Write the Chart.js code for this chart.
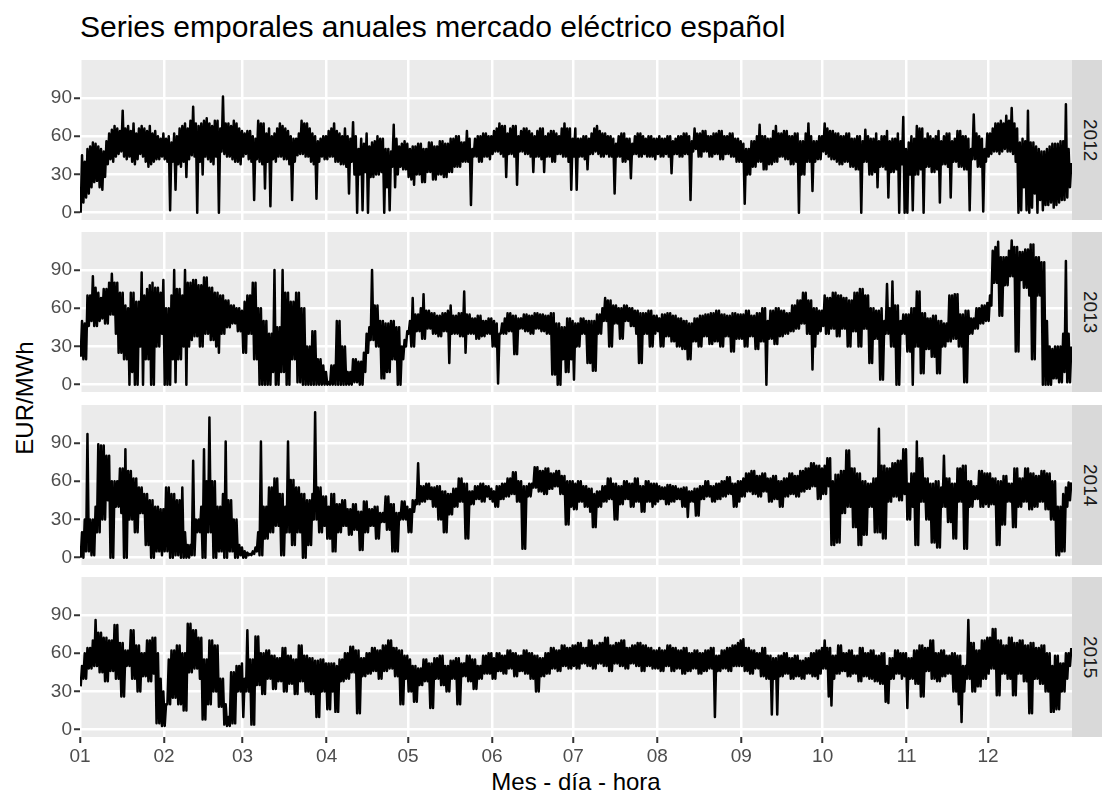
<!DOCTYPE html>
<html>
<head>
<meta charset="utf-8">
<script src="https://cdn.jsdelivr.net/npm/chart.js"></script>
<style>
  body { margin: 0; background: #fff; font-family: "Liberation Sans", Arial, Helvetica, sans-serif; }
  #wrap { position: relative; width: 1102px; height: 794px; overflow: hidden; }
  .title { position: absolute; left: 80px; top: 12px; font-size: 30px; line-height: 30px; color: #000; white-space: nowrap; }
  .xtitle { position: absolute; left: 80px; width: 992px; top: 770px; text-align: center; font-size: 24px; line-height: 24px; color: #000; }
  .ytitle { position: absolute; left: -75px; width: 200px; top: 386px; text-align: center; font-size: 24px; line-height: 24px; color: #000; transform: rotate(-90deg); }
  .panel { position: absolute; left: 0; width: 1072px; }
  .strip { position: absolute; left: 1072px; width: 30px; background: #d9d9d9; display: flex; align-items: center; justify-content: center; }
  .strip span { writing-mode: vertical-rl; font-size: 19px; color: #1a1a1a; margin-left: 6px; }
</style>
</head>
<body>
<div id="wrap">
  <div class="title">Series emporales anuales mercado eléctrico español</div>
  <div class="ytitle">EUR/MWh</div>
  <div class="xtitle">Mes - día - hora</div>
</div>
<script>
// month axis: day of year where each month starts
const monthLabels = ['01', '02', '03', '04', '05', '06', '07', '08', '09', '10', '11', '12'];
const monthStartDay = [0, 31, 60, 91, 121, 152, 182, 213, 244, 274, 305, 335];
const yGrid = [0, 15, 30, 45, 60, 75, 90, 105];
const yLabels = [0, 30, 60, 90];
const years = ['2012', '2013', '2014', '2015'];

// daily high / low price (EUR/MWh), one row per month
const hi2012 = [
  45, 40, 50, 52, 55, 54, 52, 50, 48, 56, 62, 65, 68, 66, 64, 80, 66, 68, 64, 70, 62, 66, 68, 66, 64, 68, 62, 64, 60, 58, 62,
  58, 60, 55, 62, 60, 66, 68, 70, 66, 72, 83, 70, 68, 70, 72, 74, 70, 68, 72, 72, 66, 91, 70, 70, 68, 72, 70, 66, 64,
  62, 64, 64, 60, 58, 72, 70, 70, 62, 66, 60, 62, 66, 70, 68, 66, 64, 60, 58, 58, 62, 72, 70, 70, 66, 62, 60, 56, 58, 60, 60,
  64, 66, 70, 64, 62, 60, 66, 60, 58, 71, 60, 50, 58, 54, 62, 52, 55, 56, 60, 58, 58, 50, 50, 48, 69, 58, 52, 54, 56, 54,
  50, 52, 52, 54, 54, 50, 50, 55, 55, 52, 52, 56, 56, 54, 54, 58, 58, 60, 60, 55, 55, 64, 58, 50, 58, 60, 60, 62, 62, 60, 60,
  64, 66, 70, 68, 68, 62, 66, 68, 68, 60, 64, 66, 66, 64, 62, 60, 64, 66, 66, 60, 62, 64, 64, 62, 60, 66, 70, 66, 66, 58,
  66, 58, 58, 60, 60, 58, 62, 66, 68, 64, 62, 62, 60, 60, 58, 54, 60, 62, 62, 58, 58, 54, 60, 62, 62, 60, 58, 60, 60, 58, 58,
  60, 58, 58, 60, 60, 56, 58, 60, 60, 62, 62, 60, 56, 66, 62, 62, 64, 64, 60, 60, 62, 62, 64, 64, 60, 60, 62, 62, 58, 58, 56,
  54, 50, 50, 56, 56, 60, 69, 60, 60, 58, 58, 64, 68, 62, 62, 64, 64, 60, 60, 62, 62, 56, 56, 62, 70, 60, 56, 56, 60, 60,
  70, 66, 64, 64, 62, 62, 60, 60, 62, 62, 58, 58, 60, 60, 56, 65, 60, 58, 58, 62, 56, 60, 60, 64, 56, 58, 58, 62, 56, 75, 50,
  55, 60, 58, 68, 66, 66, 58, 62, 60, 58, 60, 64, 56, 60, 62, 62, 56, 58, 64, 64, 60, 60, 58, 50, 77, 62, 60, 58, 50, 62,
  62, 66, 70, 70, 72, 70, 76, 72, 82, 70, 66, 55, 58, 56, 80, 55, 55, 52, 50, 48, 48, 50, 52, 54, 54, 54, 56, 56, 85, 50, 39
];
const lo2012 = [
  0, 8, 12, 15, 20, 24, 25, 20, 18, 28, 38, 42, 40, 44, 46, 48, 44, 42, 44, 40, 38, 42, 46, 44, 40, 36, 38, 40, 42, 42, 44,
  42, 40, 2, 40, 18, 38, 36, 40, 28, 42, 45, 44, 0, 40, 30, 44, 42, 40, 38, 44, 0, 48, 46, 44, 44, 42, 40, 40, 38,
  44, 46, 42, 40, 10, 42, 40, 38, 19, 40, 5, 42, 40, 44, 44, 42, 42, 38, 10, 40, 45, 46, 46, 44, 44, 40, 38, 11, 40, 44, 42,
  42, 44, 44, 40, 40, 38, 38, 36, 15, 40, 30, 0, 30, 2, 32, 0, 28, 28, 30, 30, 32, 0, 20, 2, 36, 20, 30, 36, 34, 34,
  28, 26, 22, 30, 30, 24, 24, 32, 32, 26, 26, 30, 30, 28, 28, 32, 32, 36, 36, 36, 40, 40, 40, 6, 44, 44, 40, 40, 44, 44, 42,
  46, 48, 48, 46, 44, 28, 46, 46, 44, 22, 48, 48, 46, 46, 44, 32, 44, 44, 42, 32, 44, 44, 40, 40, 46, 46, 44, 44, 40, 18,
  44, 18, 44, 44, 42, 34, 46, 46, 48, 46, 44, 44, 46, 44, 44, 15, 44, 44, 40, 40, 42, 27, 46, 46, 44, 44, 46, 44, 44, 44, 42,
  46, 44, 44, 46, 44, 31, 46, 46, 44, 44, 46, 46, 10, 48, 50, 44, 44, 48, 48, 44, 44, 46, 46, 42, 42, 46, 46, 44, 44, 40, 40,
  40, 7, 30, 30, 36, 36, 40, 40, 34, 34, 38, 38, 40, 40, 44, 44, 42, 42, 38, 38, 40, 0, 30, 30, 40, 40, 17, 40, 42, 42,
  48, 46, 44, 42, 42, 40, 38, 38, 40, 40, 36, 36, 34, 34, 0, 40, 40, 30, 30, 32, 20, 36, 36, 34, 12, 32, 32, 34, 0, 38, 0,
  0, 30, 2, 30, 30, 34, 0, 36, 36, 32, 32, 34, 8, 38, 38, 36, 12, 40, 40, 36, 36, 34, 34, 2, 42, 42, 36, 36, 1, 40,
  44, 46, 48, 48, 46, 48, 50, 48, 48, 46, 40, 0, 2, 20, 2, 0, 4, 15, 0, 10, 2, 6, 6, 8, 4, 6, 8, 10, 10, 12, 20
];

const hi2013 = [
  50, 48, 70, 70, 85, 76, 72, 68, 75, 75, 80, 87, 80, 80, 72, 72, 62, 60, 72, 72, 65, 65, 88, 70, 75, 78, 80, 76, 76, 72, 82,
  60, 60, 70, 90, 75, 75, 70, 90, 80, 80, 82, 82, 78, 78, 84, 84, 76, 76, 72, 72, 70, 70, 66, 66, 62, 62, 60, 60, 58,
  65, 70, 70, 80, 80, 60, 60, 50, 50, 40, 40, 90, 45, 45, 90, 72, 72, 65, 65, 72, 72, 60, 60, 30, 30, 42, 42, 20, 20, 15, 10,
  2, 15, 15, 50, 50, 30, 30, 10, 10, 20, 20, 18, 18, 25, 40, 45, 90, 62, 62, 50, 50, 48, 48, 50, 50, 45, 45, 30, 35, 42,
  50, 68, 55, 55, 60, 71, 58, 58, 56, 56, 54, 54, 56, 56, 58, 62, 54, 54, 56, 56, 73, 55, 55, 52, 52, 54, 54, 50, 50, 52, 52,
  50, 48, 40, 48, 52, 56, 56, 54, 54, 52, 52, 55, 55, 54, 54, 56, 56, 55, 55, 54, 54, 56, 56, 48, 48, 45, 45, 52, 52, 50,
  48, 48, 52, 52, 50, 50, 50, 50, 55, 55, 60, 68, 66, 66, 62, 62, 60, 60, 62, 62, 60, 60, 58, 58, 56, 56, 56, 58, 58, 54, 54,
  52, 55, 55, 56, 56, 54, 54, 52, 52, 50, 50, 48, 48, 52, 52, 54, 54, 55, 55, 56, 56, 58, 58, 55, 55, 54, 54, 56, 56, 55, 55,
  55, 58, 58, 54, 54, 56, 56, 60, 60, 50, 58, 58, 60, 60, 58, 58, 56, 56, 62, 62, 66, 66, 72, 72, 66, 66, 60, 60, 58, 58,
  70, 68, 68, 72, 72, 70, 70, 68, 68, 66, 66, 72, 72, 75, 75, 70, 70, 60, 60, 58, 58, 60, 50, 79, 60, 81, 62, 62, 50, 55, 55,
  55, 60, 60, 73, 73, 56, 56, 52, 52, 54, 54, 50, 50, 48, 48, 70, 70, 71, 71, 55, 55, 58, 58, 52, 52, 60, 60, 62, 62, 64,
  70, 105, 108, 112, 100, 100, 100, 105, 113, 108, 108, 104, 104, 106, 106, 110, 110, 100, 100, 96, 96, 50, 30, 28, 30, 30, 30, 40, 97, 40, 30
];
const lo2013 = [
  22, 20, 20, 46, 50, 46, 46, 50, 52, 48, 48, 55, 55, 40, 25, 25, 20, 20, 0, 10, 0, 0, 30, 0, 20, 20, 0, 0, 30, 30, 40,
  0, 0, 0, 20, 2, 20, 20, 30, 0, 30, 35, 38, 38, 30, 30, 40, 40, 35, 35, 30, 25, 40, 40, 45, 45, 48, 48, 42, 42,
  25, 25, 40, 40, 20, 20, 0, 0, 0, 0, 0, 10, 0, 0, 10, 10, 0, 0, 20, 20, 2, 2, 0, 0, 0, 0, 0, 0, 0, 0, 0,
  0, 0, 0, 0, 0, 0, 0, 0, 0, 0, 2, 2, 0, 0, 10, 25, 35, 35, 30, 30, 5, 5, 10, 10, 20, 20, 0, 0, 20, 30,
  40, 30, 30, 42, 42, 36, 36, 44, 44, 40, 40, 38, 38, 42, 42, 17, 40, 40, 40, 38, 38, 25, 40, 40, 40, 36, 36, 38, 38, 40, 40,
  30, 30, 1, 40, 40, 40, 42, 42, 24, 24, 44, 44, 42, 42, 40, 40, 44, 44, 42, 42, 40, 40, 8, 8, 0, 0, 20, 10, 10, 20,
  4, 30, 30, 40, 40, 17, 17, 11, 11, 40, 40, 50, 50, 30, 30, 48, 48, 36, 36, 50, 50, 46, 46, 40, 17, 17, 40, 40, 30, 30, 40,
  42, 30, 30, 38, 38, 34, 34, 30, 30, 28, 28, 20, 20, 34, 34, 30, 30, 38, 38, 32, 32, 34, 34, 30, 30, 38, 38, 26, 26, 36, 36,
  36, 30, 30, 38, 38, 28, 28, 34, 34, 0, 36, 36, 32, 32, 38, 38, 40, 40, 42, 42, 44, 44, 48, 48, 40, 40, 12, 30, 40, 42,
  46, 40, 40, 44, 44, 38, 38, 44, 44, 30, 30, 42, 42, 30, 30, 44, 44, 17, 17, 36, 36, 4, 4, 40, 40, 30, 30, 0, 0, 40, 40,
  26, 26, 0, 30, 30, 9, 9, 28, 28, 22, 22, 9, 9, 30, 30, 34, 34, 36, 36, 30, 30, 2, 2, 40, 40, 44, 44, 48, 48, 50,
  50, 62, 80, 80, 54, 54, 78, 78, 85, 85, 26, 26, 82, 76, 76, 70, 20, 20, 70, 70, 0, 0, 0, 0, 5, 5, 2, 2, 10, 2, 2
];

const hi2014 = [
  20, 30, 97, 30, 30, 40, 89, 88, 88, 80, 80, 60, 60, 60, 70, 70, 85, 68, 68, 62, 62, 55, 55, 50, 50, 45, 45, 40, 40, 38, 38,
  55, 55, 50, 50, 45, 45, 55, 20, 10, 10, 76, 30, 30, 40, 85, 60, 110, 60, 60, 40, 40, 50, 91, 45, 45, 30, 30, 10, 8,
  5, 4, 3, 5, 8, 20, 91, 40, 40, 55, 55, 62, 62, 50, 50, 40, 91, 61, 61, 55, 55, 50, 50, 45, 45, 50, 114, 55, 55, 48, 48,
  40, 50, 50, 42, 42, 45, 45, 38, 38, 42, 42, 36, 36, 44, 44, 38, 38, 40, 40, 35, 35, 48, 48, 42, 42, 35, 35, 44, 44, 40,
  38, 45, 45, 74, 56, 56, 58, 58, 55, 55, 56, 56, 52, 52, 50, 50, 54, 54, 62, 62, 58, 58, 52, 52, 56, 56, 58, 58, 56, 56, 54,
  52, 56, 56, 58, 58, 62, 62, 67, 67, 60, 60, 56, 56, 58, 58, 71, 71, 68, 68, 70, 70, 66, 66, 68, 68, 64, 64, 60, 60, 60,
  58, 60, 60, 56, 56, 54, 54, 50, 52, 52, 56, 56, 62, 62, 58, 58, 56, 56, 60, 60, 58, 58, 62, 62, 56, 56, 60, 60, 58, 58, 58,
  56, 55, 55, 57, 57, 56, 56, 54, 54, 55, 55, 52, 52, 54, 54, 56, 56, 60, 60, 56, 56, 58, 58, 60, 60, 63, 63, 58, 58, 60, 60,
  62, 66, 66, 68, 68, 64, 64, 66, 66, 62, 62, 64, 64, 60, 60, 62, 62, 66, 66, 64, 64, 68, 68, 70, 70, 74, 74, 72, 72, 70,
  72, 78, 78, 60, 65, 65, 68, 68, 84, 84, 70, 70, 66, 66, 60, 60, 58, 58, 62, 62, 101, 72, 72, 70, 70, 74, 74, 76, 76, 85, 85,
  58, 66, 66, 91, 78, 78, 62, 62, 58, 58, 60, 60, 55, 80, 62, 62, 58, 58, 70, 70, 72, 72, 60, 60, 56, 56, 68, 68, 66, 66,
  66, 62, 62, 60, 60, 64, 64, 58, 58, 70, 70, 62, 62, 70, 70, 66, 66, 64, 64, 68, 68, 66, 66, 60, 60, 40, 40, 50, 55, 59, 59
];
const lo2014 = [
  0, 0, 5, 5, 2, 2, 20, 20, 30, 30, 45, 0, 0, 40, 40, 35, 0, 0, 30, 30, 20, 20, 35, 35, 10, 10, 0, 0, 5, 5, 2,
  5, 5, 0, 0, 2, 2, 0, 0, 0, 0, 2, 2, 20, 20, 0, 0, 20, 20, 0, 0, 5, 5, 0, 0, 5, 5, 0, 0, 2,
  0, 0, 2, 2, 3, 5, 2, 2, 15, 15, 20, 20, 25, 25, 2, 2, 20, 20, 10, 10, 20, 20, 0, 0, 10, 10, 30, 30, 20, 20, 25,
  15, 15, 5, 5, 20, 20, 25, 25, 18, 18, 22, 22, 6, 6, 20, 20, 25, 25, 15, 15, 28, 28, 22, 22, 5, 5, 5, 30, 30, 30,
  20, 20, 36, 42, 42, 44, 44, 46, 46, 40, 40, 30, 30, 20, 20, 34, 34, 40, 40, 44, 44, 15, 15, 42, 42, 46, 46, 44, 44, 48, 46,
  44, 40, 40, 46, 46, 48, 48, 50, 50, 44, 44, 7, 7, 48, 48, 55, 55, 52, 52, 50, 50, 54, 54, 56, 56, 50, 50, 26, 26, 40,
  38, 38, 44, 44, 40, 40, 36, 24, 24, 40, 40, 44, 44, 46, 46, 30, 30, 42, 42, 46, 46, 40, 40, 44, 44, 36, 36, 44, 44, 40, 42,
  44, 46, 46, 42, 42, 44, 44, 46, 46, 40, 40, 32, 44, 44, 33, 33, 46, 46, 48, 48, 44, 44, 46, 46, 48, 48, 50, 50, 40, 40, 44,
  48, 48, 52, 52, 50, 50, 48, 48, 52, 52, 44, 44, 46, 46, 40, 40, 48, 48, 50, 50, 48, 48, 52, 52, 54, 54, 56, 56, 46, 46,
  50, 50, 56, 10, 10, 12, 12, 35, 35, 40, 40, 24, 24, 10, 10, 18, 18, 40, 40, 20, 20, 20, 15, 15, 44, 44, 48, 48, 45, 45, 50,
  30, 30, 40, 10, 10, 44, 44, 30, 30, 12, 12, 8, 8, 40, 40, 28, 28, 15, 15, 44, 44, 7, 7, 40, 40, 46, 46, 40, 40, 42,
  40, 42, 42, 10, 10, 26, 26, 44, 44, 24, 24, 40, 40, 44, 44, 38, 38, 40, 40, 44, 44, 38, 38, 30, 30, 2, 2, 5, 5, 40, 45
];

const hi2015 = [
  50, 60, 64, 64, 70, 86, 76, 76, 72, 72, 70, 70, 82, 82, 68, 68, 62, 62, 78, 78, 66, 66, 60, 60, 70, 70, 72, 72, 60, 40, 30,
  20, 55, 62, 62, 66, 66, 60, 60, 83, 83, 78, 78, 72, 72, 55, 55, 70, 70, 66, 66, 40, 40, 20, 10, 45, 45, 50, 50, 52,
  40, 78, 55, 55, 73, 73, 60, 60, 62, 62, 58, 58, 56, 56, 64, 64, 58, 58, 55, 55, 66, 66, 58, 58, 56, 56, 54, 54, 55, 55, 52,
  52, 52, 52, 50, 55, 55, 60, 60, 65, 65, 62, 62, 56, 56, 60, 60, 64, 64, 62, 62, 66, 66, 70, 70, 64, 64, 62, 62, 58, 58,
  55, 50, 50, 48, 48, 55, 55, 52, 52, 56, 56, 58, 58, 50, 50, 54, 54, 56, 56, 52, 52, 58, 58, 55, 55, 50, 50, 58, 58, 60, 60,
  56, 60, 60, 58, 58, 62, 62, 60, 60, 58, 58, 62, 62, 60, 60, 58, 58, 56, 56, 60, 60, 64, 64, 62, 62, 66, 66, 64, 64, 66,
  66, 68, 68, 64, 64, 70, 70, 66, 66, 68, 68, 72, 72, 66, 66, 68, 68, 70, 70, 64, 64, 66, 66, 68, 68, 66, 66, 64, 64, 62, 62,
  64, 62, 62, 66, 66, 64, 64, 62, 62, 64, 64, 60, 60, 62, 62, 60, 60, 62, 62, 64, 64, 58, 58, 62, 62, 64, 64, 66, 66, 68, 70,
  71, 64, 64, 62, 62, 60, 60, 64, 64, 58, 58, 56, 56, 58, 58, 60, 60, 56, 56, 58, 58, 54, 54, 56, 56, 60, 60, 62, 62, 64,
  70, 64, 64, 58, 58, 66, 66, 60, 60, 62, 62, 58, 58, 64, 64, 60, 60, 62, 62, 58, 58, 60, 60, 50, 56, 56, 62, 62, 60, 60, 60,
  56, 56, 62, 62, 66, 66, 64, 64, 70, 70, 60, 60, 62, 62, 58, 58, 60, 60, 58, 58, 50, 50, 86, 68, 68, 62, 62, 70, 70, 72,
  72, 79, 79, 70, 70, 66, 66, 72, 72, 68, 68, 70, 70, 66, 66, 68, 68, 64, 64, 66, 66, 60, 60, 50, 58, 58, 52, 52, 60, 60, 64
];
const lo2015 = [
  34, 40, 40, 48, 48, 50, 50, 45, 45, 38, 38, 46, 46, 40, 40, 26, 26, 50, 50, 40, 40, 30, 30, 42, 42, 38, 38, 44, 5, 5, 3,
  3, 20, 20, 25, 25, 20, 20, 15, 15, 45, 45, 48, 48, 40, 8, 8, 20, 20, 30, 30, 18, 18, 4, 3, 3, 5, 5, 30, 30,
  10, 30, 30, 4, 4, 35, 35, 28, 28, 40, 40, 32, 32, 38, 38, 30, 30, 36, 36, 28, 28, 38, 38, 30, 30, 28, 28, 10, 10, 30, 30,
  16, 16, 30, 14, 14, 38, 38, 40, 40, 45, 45, 13, 13, 42, 42, 44, 44, 46, 46, 40, 40, 46, 46, 48, 48, 42, 42, 20, 20, 40,
  30, 30, 22, 22, 35, 35, 38, 38, 17, 17, 40, 40, 35, 35, 30, 30, 40, 40, 20, 20, 42, 42, 38, 38, 32, 32, 40, 40, 44, 44, 44,
  40, 40, 46, 46, 44, 44, 48, 48, 42, 42, 46, 46, 44, 44, 40, 40, 30, 30, 42, 42, 44, 44, 48, 48, 46, 46, 50, 50, 48, 48,
  50, 48, 48, 52, 52, 50, 50, 48, 48, 52, 52, 50, 50, 46, 46, 52, 52, 50, 50, 48, 48, 52, 52, 50, 50, 46, 46, 50, 50, 48, 48,
  48, 46, 46, 50, 50, 46, 46, 48, 48, 44, 44, 46, 46, 48, 48, 44, 44, 46, 46, 48, 48, 10, 46, 46, 48, 48, 46, 46, 50, 50, 50,
  50, 46, 46, 44, 44, 48, 48, 42, 42, 40, 40, 12, 40, 12, 42, 42, 44, 44, 40, 40, 42, 42, 40, 40, 44, 44, 42, 42, 40, 44,
  48, 48, 26, 19, 40, 44, 44, 46, 46, 42, 42, 44, 44, 38, 38, 42, 42, 40, 40, 38, 38, 36, 36, 22, 21, 40, 40, 44, 44, 40, 42,
  17, 40, 40, 36, 36, 26, 26, 46, 46, 40, 40, 38, 38, 42, 42, 44, 44, 30, 30, 20, 6, 30, 40, 40, 30, 30, 34, 34, 40, 40,
  44, 48, 48, 27, 27, 44, 44, 40, 40, 27, 27, 44, 44, 38, 38, 13, 13, 40, 40, 36, 36, 30, 30, 14, 14, 16, 16, 30, 30, 40, 50
];
const highs = [hi2012, hi2013, hi2014, hi2015];
const lows = [lo2012, lo2013, lo2014, lo2015];

Chart.defaults.font.family = '"Liberation Sans", Arial, Helvetica, sans-serif';
Chart.defaults.animation = false;

const panelTop = [60, 232, 405, 577];
const panelH = 160;
const axisH = 44;

// grey panel background behind the grid
const panelBg = {
  id: 'panelBg',
  beforeDraw(chart) {
    const a = chart.chartArea;
    const ctx = chart.ctx;
    ctx.save();
    ctx.fillStyle = '#ebebeb';
    ctx.fillRect(a.left, a.top, a.right - a.left, a.bottom - a.top);
    ctx.restore();
  }
};

// each day: the line drops to the daily low, then climbs to the daily high
function dayPoints(lo, hi) {
  const pts = [];
  for (let d = 0; d < lo.length; d++) {
    pts.push({ x: d + 0.25, y: lo[d] });
    pts.push({ x: d + 0.75, y: hi[d] });
  }
  return pts;
}

function makePanel(i) {
  const last = i === years.length - 1;
  const wrap = document.getElementById('wrap');

  const box = document.createElement('div');
  box.className = 'panel';
  box.style.top = panelTop[i] + 'px';
  box.style.height = (panelH + (last ? axisH : 0)) + 'px';
  const cv = document.createElement('canvas');
  box.appendChild(cv);
  wrap.appendChild(box);

  const strip = document.createElement('div');
  strip.className = 'strip';
  strip.style.top = panelTop[i] + 'px';
  strip.style.height = panelH + 'px';
  strip.innerHTML = '<span>' + years[i] + '</span>';
  wrap.appendChild(strip);

  const isMajor = ctx => ctx.tick && yLabels.includes(ctx.tick.value);

  new Chart(cv, {
    type: 'line',
    data: {
      datasets: [{
        data: dayPoints(lows[i], highs[i]),
        borderColor: '#000',
        borderWidth: 2.5,
        borderJoinStyle: 'round',
        pointRadius: 0,
        tension: 0,
        fill: false
      }]
    },
    options: {
      responsive: true,
      maintainAspectRatio: false,
      events: [],
      layout: { padding: 0 },
      plugins: { legend: { display: false }, tooltip: { enabled: false } },
      scales: {
        x: {
          type: 'linear',
          min: 0,
          max: 366,
          afterBuildTicks: s => { s.ticks = monthStartDay.map(v => ({ value: v })); },
          afterFit: s => { s.height = last ? axisH : 0; s.paddingLeft = 0; s.paddingRight = 0; },
          ticks: {
            display: last,
            autoSkip: false,
            maxRotation: 0,
            color: '#4d4d4d',
            font: { size: 19 },
            padding: 2,
            callback: (v, idx) => monthLabels[idx]
          },
          grid: { color: '#fff', lineWidth: 2.5, drawTicks: last, tickLength: 6, tickColor: '#333', tickWidth: 2 },
          border: { display: false }
        },
        y: {
          min: -5.7,
          max: 119.7,
          afterBuildTicks: s => { s.ticks = yGrid.map(v => ({ value: v })); },
          afterFit: s => { s.width = 80; s.paddingTop = 0; s.paddingBottom = 0; },
          ticks: {
            color: '#4d4d4d',
            font: { size: 19 },
            padding: 2,
            callback: v => yLabels.includes(v) ? String(v) : ''
          },
          grid: {
            color: '#fff',
            lineWidth: ctx => isMajor(ctx) ? 2.5 : 1.2,
            tickLength: 6,
            tickColor: ctx => isMajor(ctx) ? '#333' : 'rgba(0,0,0,0)',
            tickWidth: 2
          },
          border: { display: false }
        }
      }
    },
    plugins: [panelBg]
  });
}

years.forEach((y, i) => makePanel(i));
</script>
</body>
</html>
